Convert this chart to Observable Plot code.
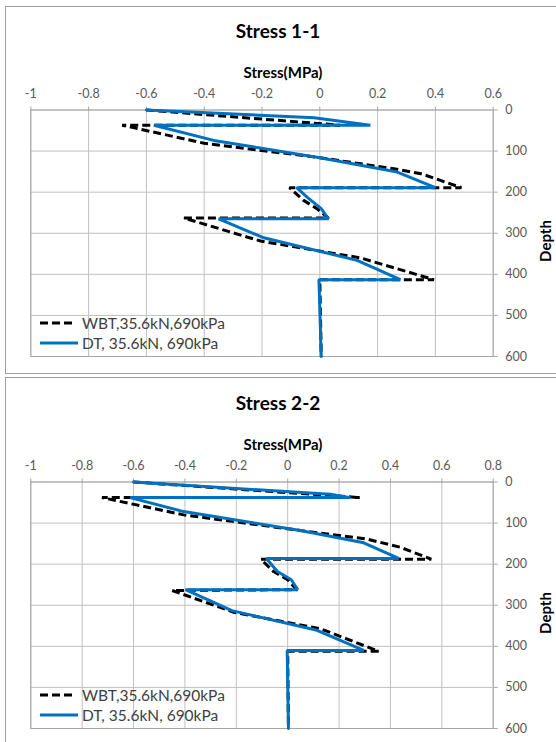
<!DOCTYPE html>
<html><head><meta charset="utf-8">
<script src="https://cdn.jsdelivr.net/npm/d3@7"></script>
<script src="https://cdn.jsdelivr.net/npm/@observablehq/plot@0.6"></script>
<style>
body{margin:0;background:#fff;font-family:Lato, "Open Sans", sans-serif;}
#page{position:relative;width:556px;height:742px;overflow:hidden;background:#fff;}
.box{position:absolute;border:1px solid #a0a0a0;box-sizing:border-box;}
.title{position:absolute;font-weight:bold;font-size:19px;color:#000;transform:translate(-50%,-50%);white-space:nowrap;}
.xlab{position:absolute;font-weight:bold;font-size:15px;color:#000;transform:translate(-50%,-50%);white-space:nowrap;}
.ylab{position:absolute;font-weight:bold;font-size:15px;color:#000;transform:translate(-50%,-50%) rotate(-90deg);white-space:nowrap;}
.chart{position:absolute;left:0;}
.lg{position:absolute;font-size:15.5px;color:#404040;white-space:nowrap;transform:translateY(-50%);}
.sw{position:absolute;}
</style></head>
<body><div id="page"></div>
<script>
// ---- data ----
const titles = ["Stress 1-1", "Stress 2-2"];
const seriesNames = ["WBT,35.6kN,690kPa", "DT, 35.6kN, 690kPa"];
const xTicks1 = [-1, -0.8, -0.6, -0.4, -0.2, 0, 0.2, 0.4, 0.6];
const xTicks2 = [-1, -0.8, -0.6, -0.4, -0.2, 0, 0.2, 0.4, 0.6, 0.8];
const yTicks = [0, 100, 200, 300, 400, 500, 600];

// Stress 1-1
const wbt1Depth  = [0, 37, 37, 81, 116, 143, 155, 189, 189, 220, 240, 263, 263, 319, 360, 413, 413, 600];
const wbt1Stress = [-0.6, 0.07, -0.684, -0.40, 0.0, 0.256, 0.35, 0.49, -0.105, -0.056, -0.01, 0.03, -0.47, -0.205, 0.141, 0.395, 0.0, 0.005];
const dt1Depth   = [0, 19, 37, 37, 74, 116, 151, 189, 189, 212, 240, 265, 265, 311, 366, 413, 413, 600];
const dt1Stress  = [-0.6, -0.02, 0.175, -0.574, -0.367, 0.0, 0.268, 0.40, -0.08, -0.044, 0.005, 0.03, -0.35, -0.194, 0.129, 0.279, -0.003, 0.005];

// Stress 2-2
const wbt2Depth  = [0, 38, 38, 80, 118, 139, 159, 188, 188, 218, 238, 262, 264, 317, 357, 412, 412, 600];
const wbt2Stress = [-0.6, 0.283, -0.723, -0.405, 0.049, 0.309, 0.439, 0.559, -0.104, -0.055, 0.0, 0.035, -0.45, -0.21, 0.127, 0.354, 0.0, 0.003];
const dt2Depth   = [0, 30, 38, 38, 72, 118, 148, 186, 186, 218, 238, 262, 262, 313, 361, 410, 410, 600];
const dt2Stress  = [-0.6, 0.166, 0.244, -0.613, -0.405, 0.049, 0.296, 0.432, -0.083, -0.04, 0.014, 0.039, -0.398, -0.217, 0.114, 0.296, -0.002, 0.003];

// ---- layout ----
const page = document.getElementById("page");
const W = 556, H = 373;
const mL = 30.3, mR = 63.3, mT = 109.5, mB = 17;
const blue = "#0070C0";

function zip(xs, ys) { return xs.map((x, i) => ({stress: x, depth: ys[i]})); }

function el(cls, text, style) {
  const d = document.createElement("div");
  d.className = cls; d.textContent = text;
  Object.assign(d.style, style);
  page.appendChild(d);
  return d;
}

function chart(top, boxTop, boxH, title, xTicks, wbt, dt) {
  el("box", "", {left: "5px", top: boxTop + "px", width: "560px", height: boxH + "px"});
  const p = Plot.plot({
    width: W, height: H,
    marginLeft: mL, marginRight: mR, marginTop: mT, marginBottom: mB,
    style: {fontFamily: "Lato, sans-serif", fontSize: "12.5px", background: "transparent", overflow: "visible"},
    x: {domain: [xTicks[0], xTicks[xTicks.length - 1]], axis: null},
    y: {domain: [0, 600], reverse: true, axis: null},
    marks: [
      Plot.gridX(xTicks, {stroke: "#c0c0c0", strokeOpacity: 1, strokeWidth: 1}),
      Plot.gridY(yTicks, {stroke: "#c0c0c0", strokeOpacity: 1, strokeWidth: 1}),
      Plot.frame({stroke: "#a6a6a6", strokeWidth: 1}),
      Plot.axisX({anchor: "top", ticks: xTicks, tickFormat: d => String(d), tickSize: 4, tickPadding: 8, stroke: "#a6a6a6", fill: "#595959", label: null}),
      Plot.axisY({anchor: "right", ticks: yTicks, tickFormat: d => String(d), tickSize: 4, tickPadding: 8, stroke: "#a6a6a6", fill: "#595959", label: null}),
      Plot.line(wbt, {x: "stress", y: "depth", stroke: "#000", strokeWidth: 3, strokeDasharray: "8,4", strokeLinecap: "butt", strokeLinejoin: "miter"}),
      Plot.line(dt, {x: "stress", y: "depth", stroke: blue, strokeWidth: 3, strokeLinejoin: "miter"})
    ]
  });
  p.classList.add("chart");
  p.style.top = top + "px";
  page.appendChild(p);

  el("title", title, {left: "278px", top: (top + 30) + "px"});
  el("xlab", "Stress(MPa)", {left: "283px", top: (top + 72) + "px"});
  el("ylab", "Depth", {left: "545px", top: (top + 241) + "px"});

  // legend
  const rows = [
    {y: top + 323.3, name: seriesNames[0], dash: "8,4", color: "#000", w: 33},
    {y: top + 343.3, name: seriesNames[1], dash: null, color: blue, w: 38}
  ];
  rows.forEach(r => {
    const ns = "http://www.w3.org/2000/svg";
    const svg = document.createElementNS(ns, "svg");
    svg.setAttribute("width", 40); svg.setAttribute("height", 8);
    svg.setAttribute("class", "sw");
    svg.style.left = "40px"; svg.style.top = (r.y - 4) + "px";
    const ln = document.createElementNS(ns, "line");
    ln.setAttribute("x1", 0); ln.setAttribute("x2", r.w);
    ln.setAttribute("y1", 4); ln.setAttribute("y2", 4);
    ln.setAttribute("stroke", r.color); ln.setAttribute("stroke-width", 3);
    if (r.dash) ln.setAttribute("stroke-dasharray", r.dash);
    svg.appendChild(ln);
    page.appendChild(svg);
    el("lg", r.name, {left: "82px", top: r.y + "px"});
  });
}

chart(0, 6, 368, titles[0], xTicks1, zip(wbt1Stress, wbt1Depth), zip(dt1Stress, dt1Depth));
chart(371.5, 377, 400, titles[1], xTicks2, zip(wbt2Stress, wbt2Depth), zip(dt2Stress, dt2Depth));
</script>
</body></html>
